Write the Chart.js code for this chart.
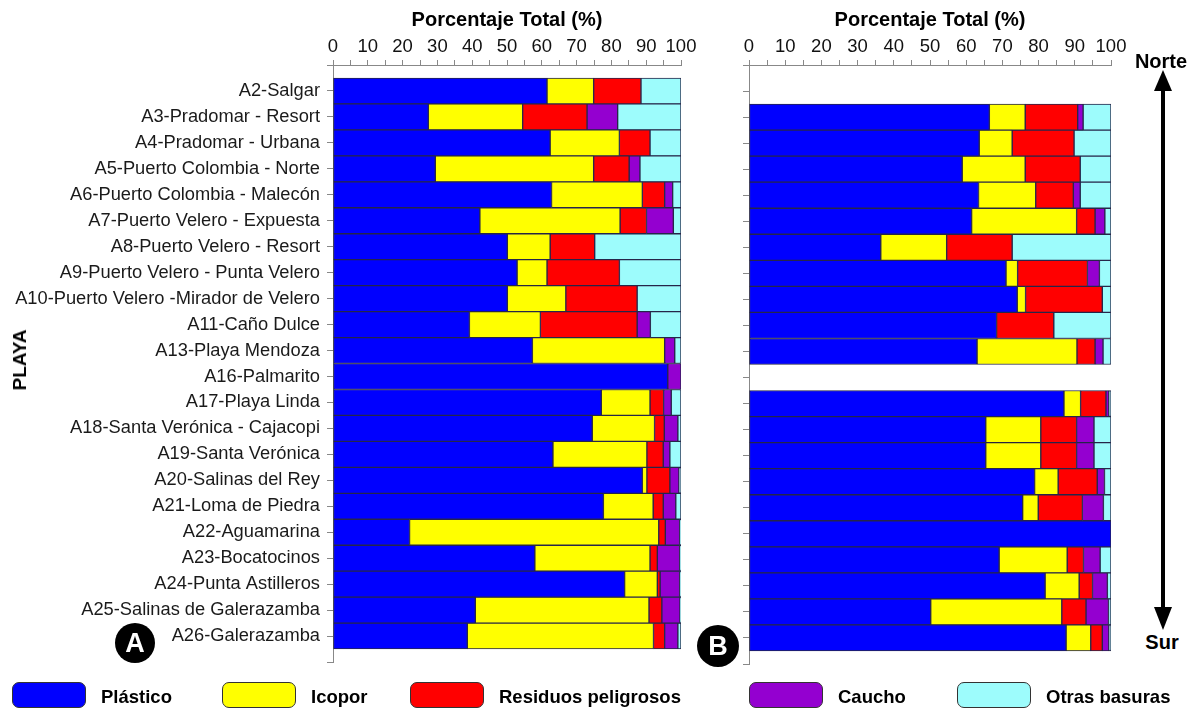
<!DOCTYPE html>
<html>
<head>
<meta charset="utf-8">
<script src="https://cdn.jsdelivr.net/npm/chart.js@4.4.1/dist/chart.umd.min.js"></script>
<style>
  body { margin: 0; background: #fff; width: 1200px; height: 710px; position: relative; overflow: hidden;
         font-family: "Liberation Sans", Arial, sans-serif; color: #000; }
  canvas { position: absolute; top: 0; }
  #chartA { left: 0; }
  #chartB { left: 700px; }
  .badge { position: absolute; border-radius: 50%; background: #000; color: #fff; font-weight: bold;
           display: flex; align-items: center; justify-content: center; font-size: 27px; }
  .lbl { position: absolute; font-weight: bold; white-space: nowrap; }
  .sw { position: absolute; top: 682px; height: 24px; border: 1.5px solid #333; border-radius: 7px; }
  .lt { position: absolute; top: 686px; font-weight: bold; font-size: 18.5px; line-height: 22px; white-space: nowrap; }
</style>
</head>
<body>
<canvas id="chartA" width="700" height="680"></canvas>
<canvas id="chartB" width="440" height="680"></canvas>

<div class="lbl" style="left:20px;top:360px;font-size:19px;transform:translate(-50%,-50%) rotate(-90deg);">PLAYA</div>
<div class="badge" style="left:115px;top:623px;width:40px;height:40px;">A</div>
<div class="badge" style="left:697px;top:625px;width:42px;height:42px;">B</div>
<div class="lbl" style="left:1161px;top:61px;font-size:20px;transform:translate(-50%,-50%);">Norte</div>
<div class="lbl" style="left:1162px;top:642px;font-size:20px;transform:translate(-50%,-50%);">Sur</div>
<svg style="position:absolute;left:1140px;top:60px" width="50" height="580">
  <rect x="21" y="26" width="4" height="526" fill="#000"/>
  <polygon points="23,10 14,31 32,31" fill="#000"/>
  <polygon points="14,547 32,547 23,570" fill="#000"/>
</svg>
<div id="legend"></div>

<script>
// playas (norte -> sur)
const categories = [
  'A2-Salgar', 'A3-Pradomar - Resort', 'A4-Pradomar - Urbana', 'A5-Puerto Colombia - Norte',
  'A6-Puerto Colombia - Malecón', 'A7-Puerto Velero - Expuesta', 'A8-Puerto Velero - Resort',
  'A9-Puerto Velero - Punta Velero', 'A10-Puerto Velero -Mirador de Velero', 'A11-Caño Dulce',
  'A13-Playa Mendoza', 'A16-Palmarito', 'A17-Playa Linda', 'A18-Santa Verónica - Cajacopi',
  'A19-Santa Verónica', 'A20-Salinas del Rey', 'A21-Loma de Piedra', 'A22-Aguamarina',
  'A23-Bocatocinos', 'A24-Punta Astilleros', 'A25-Salinas de Galerazamba', 'A26-Galerazamba'
];

const seriesNames = ['Plástico', 'Icopor', 'Residuos peligrosos', 'Caucho', 'Otras basuras'];
const seriesColors = ['#0000ff', '#ffff00', '#ff0000', '#9400d0', '#9dfcfc'];

// panel A (%)
const plasticoA = [61.5, 27.4, 62.4, 29.4, 62.8, 42.2, 50.1, 52.9, 50.1, 39.2, 57.3, 96.2, 77.1, 74.5, 63.2, 88.9, 77.7, 22.0, 58.0, 83.8, 40.9, 38.6];
const icoporA   = [13.4, 27.1, 19.9, 45.5, 26.1, 40.3, 12.3, 8.6, 16.8, 20.4, 38.0, 0, 14.0, 17.9, 27.0, 1.3, 14.3, 71.6, 33.1, 9.4, 49.9, 53.5];
const residuosA = [13.6, 18.5, 8.8, 10.2, 6.4, 7.6, 12.8, 20.8, 20.5, 27.8, 0, 0, 3.9, 2.8, 4.7, 6.6, 2.9, 1.9, 2.1, 0.8, 3.7, 3.2];
const cauchoA   = [0, 8.8, 0, 3.1, 2.3, 7.7, 0, 0, 0, 3.8, 2.9, 3.8, 2.2, 3.9, 1.9, 2.6, 3.6, 4.1, 6.4, 5.6, 5.2, 3.8];
const otrasA    = [11.5, 18.2, 8.9, 11.8, 2.4, 2.2, 24.8, 17.7, 12.6, 8.8, 1.8, 0, 2.8, 0.9, 3.2, 0.6, 1.5, 0.4, 0.4, 0.4, 0.3, 0.9];

// panel B (%), sin dato en A2 y A16
const plasticoB = [null, 66.4, 63.6, 58.9, 63.4, 61.5, 36.4, 71.0, 74.1, 68.4, 63.0, null, 87.0, 65.4, 65.4, 78.9, 75.6, 100, 69.1, 81.8, 50.2, 87.6];
const icoporB   = [null, 9.9, 9.1, 17.4, 15.8, 29.0, 18.2, 3.2, 2.3, 0, 27.6, null, 4.6, 15.2, 15.2, 6.5, 4.3, 0, 18.8, 9.4, 36.2, 6.8];
const residuosB = [null, 14.5, 17.1, 15.2, 10.4, 5.1, 18.1, 19.3, 21.2, 15.8, 5.0, null, 7.0, 9.9, 9.9, 10.8, 12.2, 0, 4.5, 3.7, 6.7, 3.2];
const cauchoB   = [null, 1.5, 0, 0, 1.9, 2.7, 0, 3.3, 0, 0, 2.2, null, 0.8, 4.8, 4.8, 2.0, 5.8, 0, 4.6, 4.1, 6.2, 1.8];
const otrasB    = [null, 7.7, 10.2, 8.5, 8.5, 1.7, 27.3, 3.2, 2.4, 15.8, 2.2, null, 0.6, 4.7, 4.7, 1.8, 2.1, 0, 3.0, 1.0, 0.7, 0.6];

const xTicks = [0, 10, 20, 30, 40, 50, 60, 70, 80, 90, 100];
const legendX = [12, 222, 410, 749, 957];

const catFont = { family: '"Liberation Sans", Arial', size: 18.3 };

// one empty slot above and below the beaches
const padLabels = [''].concat(categories, ['']);
const pad = arr => [null].concat(arr, [null]);

function makeChart(id, series, showLabels, yWidth, padRight) {
  const datasets = series.map((s, i) => ({
    label: seriesNames[i],
    data: pad(s),
    backgroundColor: seriesColors[i],
    borderColor: '#26264a',
    borderWidth: 1,
    borderSkipped: false,
    barPercentage: 1,
    categoryPercentage: 1
  }));
  return new Chart(document.getElementById(id), {
    type: 'bar',
    data: { labels: padLabels, datasets: datasets },
    options: {
      indexAxis: 'y',
      responsive: false,
      animation: false,
      devicePixelRatio: 1,
      layout: { padding: { right: padRight, bottom: 16, top: 0, left: 0 } },
      plugins: { legend: { display: false }, tooltip: { enabled: false } },
      scales: {
        x: {
          position: 'top',
          stacked: true,
          min: 0, max: 100,
          afterBuildTicks: s => { s.ticks = []; for (let v = 0; v <= 100; v += 5) s.ticks.push({ value: v }); },
          afterFit: s => { s.height = 65; },
          ticks: {
            autoSkip: false, maxRotation: 0, padding: 2,
            color: '#111',
            font: { family: '"Liberation Sans", Arial', size: 18.5 },
            callback: v => xTicks.includes(v) ? String(v) : ''
          },
          grid: { drawOnChartArea: false, tickLength: 5, color: '#888' },
          border: { color: '#888' },
          title: {
            display: true, text: 'Porcentaje Total (%)', color: '#000',
            font: { family: '"Liberation Sans", Arial', size: 20, weight: 'bold' },
            padding: { top: 8, bottom: 0 }
          }
        },
        y: {
          stacked: true,
          offset: false,
          afterFit: s => { s.width = yWidth; },
          ticks: {
            display: showLabels, autoSkip: false, padding: 7, color: '#1a1a1a',
            font: catFont
          },
          grid: { drawOnChartArea: false, offset: false, tickLength: 6, color: '#888' },
          border: { color: '#888' }
        }
      }
    }
  });
}

makeChart('chartA', [plasticoA, icoporA, residuosA, cauchoA, otrasA], true, 333, 19);
makeChart('chartB', [plasticoB, icoporB, residuosB, cauchoB, otrasB], false, 49, 29);

// legend
const legend = document.getElementById('legend');
seriesNames.forEach((name, i) => {
  const sw = document.createElement('div');
  sw.className = 'sw';
  sw.style.left = legendX[i] + 'px';
  sw.style.width = '72px';
  sw.style.background = seriesColors[i];
  legend.appendChild(sw);
  const t = document.createElement('div');
  t.className = 'lt';
  t.style.left = (legendX[i] + 89) + 'px';
  t.textContent = name;
  legend.appendChild(t);
});
</script>
</body>
</html>
